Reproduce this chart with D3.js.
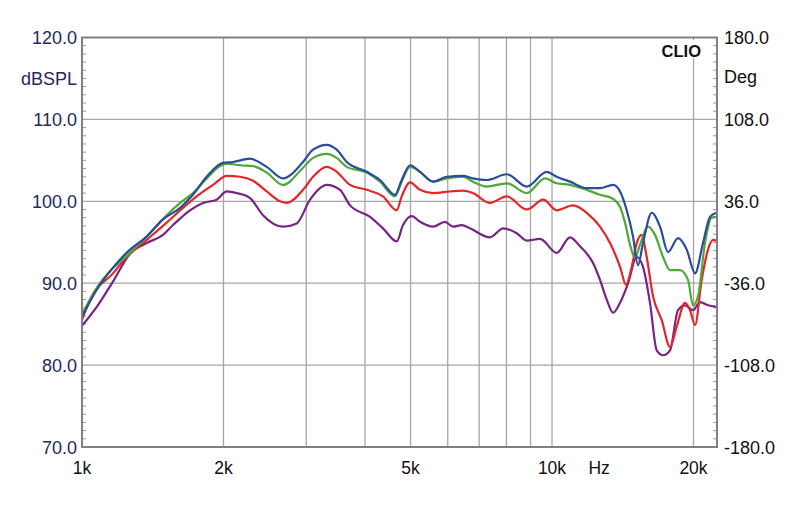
<!DOCTYPE html>
<html><head><meta charset="utf-8">
<script src="https://cdn.jsdelivr.net/npm/d3@7"></script>
<style>html,body{margin:0;padding:0;background:#fff;}svg{display:block;font-family:"Liberation Sans",Arial,sans-serif;}</style>
</head><body>
<svg id="c" width="800" height="507"></svg>
<script>
const yTicksLeft = [70, 80, 90, 100, 110, 120];
const yTicksRight = ["-180.0", "-108.0", "-36.0", "36.0", "108.0", "180.0"];
const xGrid = [2000, 3000, 4000, 5000, 6000, 7000, 8000, 9000, 10000, 20000];
const xLabels = [[1000, "1k"], [2000, "2k"], [5000, "5k"], [10000, "10k"], [20000, "20k"]];

const blueF = [1000,1075,1164,1265,1373,1487,1617,1722,1842,1995,2096,2278,2472,2677,2953,3101,3317,3483,3658,4034,4305,4634,4788,4988,5238,5582,5970,6465,6791,7261,8009,8836,9743,10233,10922,11855,12650,13485,13955,14420,14870,15241,15617,16297,16975,17654,18538,19347,20150,20954,21684,22406];
const blueV = [85.9,89.2,91.9,94.1,95.7,97.8,99.2,100.8,103.0,104.7,104.8,105.2,104.2,102.8,104.8,106.3,106.9,106.3,104.8,103.6,102.6,100.8,102.6,104.4,103.6,102.4,103.0,103.1,102.8,102.6,103.3,101.8,103.6,103.0,102.4,101.6,101.6,102.0,101.2,98.9,95.7,92.2,94.9,98.6,96.9,93.8,95.5,94.1,91.2,94.9,98.1,98.6];

const greenF = [1000,1092,1265,1373,1514,1617,1722,1842,1966,2032,2169,2312,2472,2677,2953,3101,3317,3483,3658,4034,4305,4634,4788,4988,5238,5582,5970,6465,6791,7261,8009,8836,9663,10233,10922,11855,12650,13485,13955,14300,14655,15017,15389,16005,16562,17228,17827,18718,19472,19953,20445,21159,21865,22551];
const greenV = [86.2,90.0,93.7,95.7,98.3,99.8,101.0,102.8,104.3,104.6,104.4,104.3,103.5,102.0,104.1,105.3,105.8,105.3,104.2,103.5,102.4,100.6,102.4,104.2,103.6,102.4,102.8,103.0,102.4,101.8,102.2,101.0,102.8,102.2,102.0,101.4,100.8,100.3,99.3,97.4,94.7,93.1,94.7,96.9,95.9,93.2,91.6,91.6,90.4,87.3,88.4,94.9,98.0,98.1];

const redF = [1000,1040,1164,1245,1373,1514,1640,1754,1900,2032,2169,2312,2472,2638,2726,2953,3101,3317,3483,3718,4034,4369,4673,4788,4988,5238,5582,6067,6465,6791,7380,8009,8836,9583,10233,11084,11855,12650,13286,13955,14370,14777,15142,15520,15902,16402,17117,17827,18420,19187,19661,20150,20820,21472,22006,22551];
const redV = [85.5,88.0,91.2,93.2,95.3,97.4,99.2,100.6,102.0,103.1,103.0,102.5,101.2,100.0,99.8,101.4,103.0,104.2,103.6,102.0,101.4,100.6,98.9,100.6,102.3,101.4,101.0,101.2,101.3,101.0,99.8,100.6,99.0,100.2,98.9,99.5,98.6,96.9,94.9,92.0,89.8,92.0,94.9,95.9,93.2,88.4,85.5,82.2,84.7,87.6,86.7,84.9,90.4,94.1,95.3,95.1];

const purpleF = [1000,1075,1164,1265,1373,1487,1562,1697,1809,1934,2032,2134,2278,2427,2677,2863,3056,3317,3540,3718,4101,4369,4673,4819,5030,5238,5582,5920,6157,6424,6691,7380,7877,8411,8836,9430,10233,10922,11471,12243,12650,13075,13485,13955,14513,15142,15617,16161,16702,17228,17827,18538,19187,19953,20647,21472,22406];
const purpleV = [84.8,87.1,90.2,93.6,94.9,95.9,97.1,98.9,99.8,100.2,101.2,101.0,100.4,98.3,96.9,97.3,100.2,102.0,101.4,99.5,98.1,96.7,95.1,97.1,98.2,97.5,96.9,97.5,96.9,97.1,96.7,95.6,96.7,96.1,95.2,95.4,93.7,95.6,94.5,92.4,90.4,88.0,86.4,87.6,90.0,93.2,92.0,87.6,81.8,81.2,81.8,86.7,87.3,86.7,87.7,87.3,87.1];

const series = [
  {name: "purple", f: purpleF, v: purpleV, color: "#7a2386"},
  {name: "red", f: redF, v: redV, color: "#e3262a"},
  {name: "green", f: greenF, v: greenV, color: "#4fa838"},
  {name: "blue", f: blueF, v: blueV, color: "#2a4c9a"}
];

const L = 82, R = 717, T = 37.5, B = 447;
const FS = 18;
const x = d3.scaleLog().domain([1000, 22440]).range([L, R]);
const y = d3.scaleLinear().domain([70, 120]).range([B, T]);
const svg = d3.select("#c");

// grid
svg.append("g").selectAll("line").data(xGrid).join("line")
  .attr("x1", d => x(d)).attr("x2", d => x(d)).attr("y1", T).attr("y2", B)
  .attr("stroke", "#a6a6a6").attr("stroke-width", 1.3);
svg.append("g").selectAll("line").data(yTicksLeft.slice(1, -1)).join("line")
  .attr("x1", L).attr("x2", R).attr("y1", d => y(d)).attr("y2", d => y(d))
  .attr("stroke", "#a6a6a6").attr("stroke-width", 1.3);

// minor ticks
const minor = d3.range(71, 120).filter(d => d % 10 !== 0);
svg.append("g").selectAll("line").data(minor).join("line")
  .attr("x1", L).attr("x2", L + 4).attr("y1", d => y(d)).attr("y2", d => y(d))
  .attr("stroke", "#9a9a9a").attr("stroke-width", 1);
svg.append("g").selectAll("line").data(minor).join("line")
  .attr("x1", R - 4).attr("x2", R).attr("y1", d => y(d)).attr("y2", d => y(d))
  .attr("stroke", "#9a9a9a").attr("stroke-width", 1);

// CLIO label background
svg.append("rect").attr("x", 652).attr("y", 40).attr("width", 52).attr("height", 18).attr("fill", "#fff");
svg.append("text").attr("x", 701).attr("y", 57).attr("text-anchor", "end")
  .attr("font-size", 16.5).attr("font-weight", "bold").attr("fill", "#111").text("CLIO");

// curves
svg.append("clipPath").attr("id", "clip").append("rect")
  .attr("x", L).attr("y", T).attr("width", R - L).attr("height", B - T);
const line = d3.line().x(d => x(d[0])).y(d => y(d[1])).curve(d3.curveMonotoneX);
const g = svg.append("g").attr("clip-path", "url(#clip)");
series.forEach(s => {
  g.append("path").datum(s.f.map((f, i) => [f, s.v[i]]))
    .attr("d", line).attr("fill", "none").attr("stroke", s.color)
    .attr("stroke-width", 2.2).attr("stroke-linejoin", "round");
});

// frame
svg.append("rect").attr("x", L).attr("y", T).attr("width", R - L).attr("height", B - T)
  .attr("fill", "none").attr("stroke", "#808080").attr("stroke-width", 2);

// left axis labels
svg.append("g").selectAll("text").data(yTicksLeft).join("text")
  .attr("x", 77).attr("y", d => y(d) + 6.5).attr("text-anchor", "end")
  .attr("font-size", FS).attr("fill", "#25285e").text(d => d.toFixed(1));
svg.append("text").attr("x", 77).attr("y", 85).attr("text-anchor", "end")
  .attr("font-size", FS).attr("fill", "#25285e").text("dBSPL");

// right axis labels
svg.append("g").selectAll("text").data(yTicksRight).join("text")
  .attr("x", 724).attr("y", (d, i) => y(yTicksLeft[i]) + 6.5).attr("text-anchor", "start")
  .attr("font-size", FS).attr("fill", "#111").text(d => d);
svg.append("text").attr("x", 724).attr("y", 83).attr("text-anchor", "start")
  .attr("font-size", FS).attr("fill", "#111").text("Deg");

// x labels
svg.append("g").selectAll("text").data(xLabels).join("text")
  .attr("x", d => x(d[0])).attr("y", 474).attr("text-anchor", "middle")
  .attr("font-size", 17.5).attr("fill", "#111").text(d => d[1]);
svg.append("text").attr("x", x(12600)).attr("y", 474).attr("text-anchor", "middle")
  .attr("font-size", 17.5).attr("fill", "#111").text("Hz");
</script>
</body></html>
